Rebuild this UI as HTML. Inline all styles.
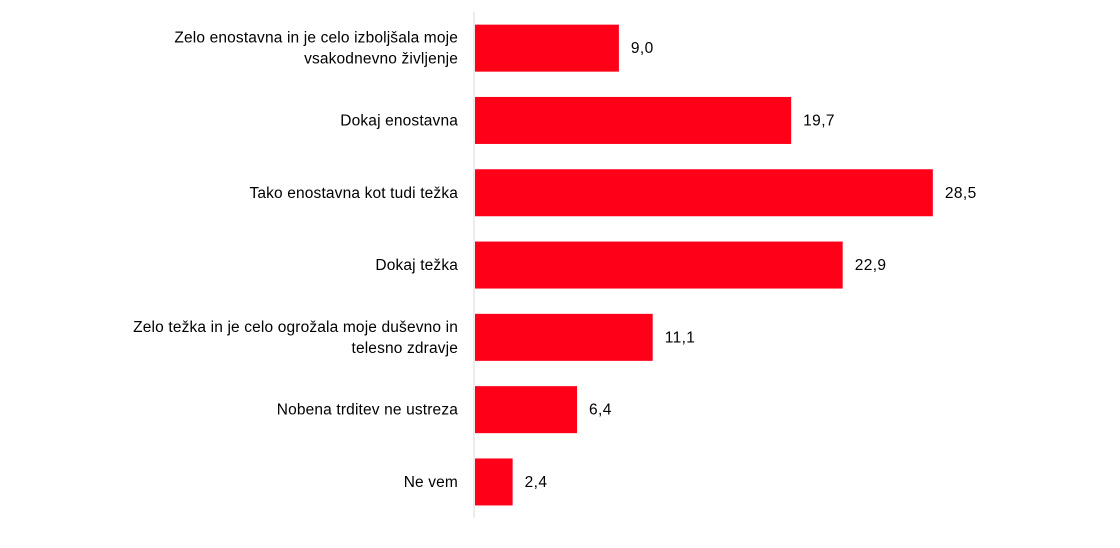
<!DOCTYPE html>
<html><head><meta charset="utf-8">
<style>
html,body{margin:0;padding:0;background:#fff;}
svg{display:block;font-family:"Liberation Sans",sans-serif;}
</style></head>
<body>
<svg id="chart" width="1120" height="548">
<line x1="474" y1="12" x2="474" y2="518" stroke="#d9d9d9" stroke-width="1"/>
</svg>
<script>
const categories = [
  ["Zelo enostavna in je celo izboljšala moje","vsakodnevno življenje"],
  ["Dokaj enostavna"],
  ["Tako enostavna kot tudi težka"],
  ["Dokaj težka"],
  ["Zelo težka in je celo ogrožala moje duševno in","telesno zdravje"],
  ["Nobena trditev ne ustreza"],
  ["Ne vem"]
];
const values = [9.0, 19.7, 28.5, 22.9, 11.1, 6.4, 2.4];
const valueLabels = ["9,0","19,7","28,5","22,9","11,1","6,4","2,4"];

const svg = document.getElementById('chart');
const NS = "http://www.w3.org/2000/svg";
const x0 = 474, pxPerUnit = 16.1;
const top0 = 12, band = 72.3, barH = 47;
const xScale = v => x0 + v * pxPerUnit;
const yBand = i => top0 + i * band + (band - barH) / 2;

values.forEach((v, i) => {
  const y = yBand(i);
  const r = document.createElementNS(NS, 'rect');
  r.setAttribute('x', x0 + 1);
  r.setAttribute('y', y);
  r.setAttribute('width', xScale(v) - x0 - 1);
  r.setAttribute('height', barH);
  r.setAttribute('fill', '#ff0019');
  
  
  svg.appendChild(r);

  const t = document.createElementNS(NS, 'text');
  t.setAttribute('x', xScale(v) + 12);
  t.setAttribute('y', y + barH / 2 + 5);
  t.setAttribute('font-size', '15.5');
  t.setAttribute('letter-spacing', '0.4');
  t.setAttribute('fill', '#000');
  t.textContent = valueLabels[i];
  
  
  svg.appendChild(t);

  const lines = categories[i];
  const lh = 21;
  const cy = y + barH / 2;
  lines.forEach((ln, j) => {
    const c = document.createElementNS(NS, 'text');
    c.setAttribute('x', 458);
    c.setAttribute('y', cy + 5 + (j - (lines.length - 1) / 2) * lh);
    c.setAttribute('text-anchor', 'end');
    c.setAttribute('font-size', '15.5');
    c.setAttribute('letter-spacing', '0.15');
    c.setAttribute('fill', '#000');
    c.textContent = ln;
    
    
    svg.appendChild(c);
  });
});
</script>
</body></html>
